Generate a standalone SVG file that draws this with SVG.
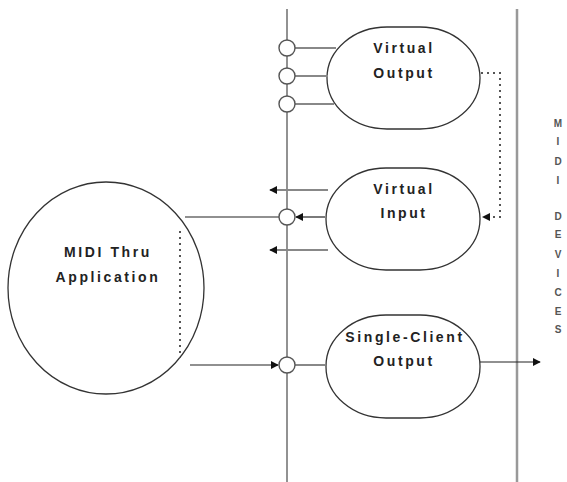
<svg xmlns="http://www.w3.org/2000/svg" width="567" height="482" viewBox="0 0 567 482">
<defs>
<style>
.bus{stroke:#777;stroke-width:1.6;fill:none}
.rail{stroke:#999;stroke-width:2.5;fill:none}
.node{fill:#fff;stroke:#333;stroke-width:1.3}
.port{fill:#fff;stroke:#555;stroke-width:1.4}
.gl{stroke:#888;stroke-width:2;fill:none}
.bl{stroke:#222;stroke-width:1.2;fill:none}
.dot{stroke:#555;stroke-width:2;stroke-dasharray:2 4;fill:none}
.lbl{font-family:"Liberation Sans",Arial,sans-serif;font-weight:bold;font-size:14px;letter-spacing:2.6px;fill:#222;text-anchor:middle}
.dev{font-family:"Liberation Sans",Arial,sans-serif;font-weight:bold;font-size:10px;fill:#555;text-anchor:middle}
</style>
<marker id="ah" viewBox="0 0 10 10" refX="9" refY="5" markerWidth="8" markerHeight="8" markerUnits="userSpaceOnUse" orient="auto">
<path d="M0,0 L10,5 L0,10 z" fill="#111"/>
</marker>
</defs>
<g id="buses">
<line class="bus" x1="287" y1="9" x2="287" y2="482"/>
<line class="rail" x1="517" y1="9" x2="517" y2="482"/>
</g>
<g id="virtual-output">
<rect class="node" x="327" y="27" width="153" height="102" rx="60" ry="51"/>
<text class="lbl" x="404" y="53">Virtual</text>
<text class="lbl" x="404" y="78">Output</text>
</g>
<g id="virtual-input">
<rect class="node" x="326" y="168" width="154" height="102" rx="60" ry="51"/>
<text class="lbl" x="404" y="194">Virtual</text>
<text class="lbl" x="404" y="218">Input</text>
</g>
<g id="single-client-output">
<rect class="node" x="326" y="315" width="154" height="103" rx="60" ry="51"/>
<text class="lbl" x="405" y="342">Single-Client</text>
<text class="lbl" x="404" y="366">Output</text>
</g>
<g id="midi-thru">
<ellipse class="node" cx="106" cy="288" rx="98" ry="106"/>
<text class="lbl" x="108" y="257">MIDI Thru</text>
<text class="lbl" x="108" y="282">Application</text>
</g>
<g id="connectors">
<line class="gl" x1="295" y1="48" x2="336" y2="48"/>
<line class="gl" x1="295" y1="76" x2="328" y2="76"/>
<line class="gl" x1="295" y1="104" x2="334" y2="104"/>
<polyline class="dot" points="481,73 500,73 500,217 488,217"/>
<path d="M490,213 L482,217 L490,221 z" fill="#111"/>
<line class="gl" x1="328" y1="190" x2="270" y2="190" marker-end="url(#ah)"/>
<line class="gl" x1="328" y1="250" x2="270" y2="250" marker-end="url(#ah)"/>
<line class="bl" x1="325" y1="217" x2="296" y2="217" marker-end="url(#ah)"/>
<line class="bl" x1="279" y1="217" x2="185" y2="217"/>
<line class="dot" x1="180" y1="231" x2="180" y2="358"/>
<line class="bl" x1="190" y1="365" x2="278" y2="365" marker-end="url(#ah)"/>
<line class="gl" x1="295" y1="365" x2="325" y2="365"/>
<line class="bl" x1="480" y1="362" x2="540" y2="362" marker-end="url(#ah)"/>
</g>
<g id="ports">
<circle class="port" cx="287" cy="48" r="8"/>
<circle class="port" cx="287" cy="76" r="8"/>
<circle class="port" cx="287" cy="104" r="8"/>
<circle class="port" cx="287" cy="217" r="8"/>
<circle class="port" cx="287" cy="365" r="8"/>
</g>
<g id="midi-devices">
<text class="dev" x="558" y="127">M</text>
<text class="dev" x="558" y="145">I</text>
<text class="dev" x="558" y="165">D</text>
<text class="dev" x="558" y="184">I</text>
<text class="dev" x="558" y="220">D</text>
<text class="dev" x="558" y="238">E</text>
<text class="dev" x="558" y="258">V</text>
<text class="dev" x="558" y="277">I</text>
<text class="dev" x="558" y="296">C</text>
<text class="dev" x="558" y="315">E</text>
<text class="dev" x="558" y="333">S</text>
</g>
</svg>
